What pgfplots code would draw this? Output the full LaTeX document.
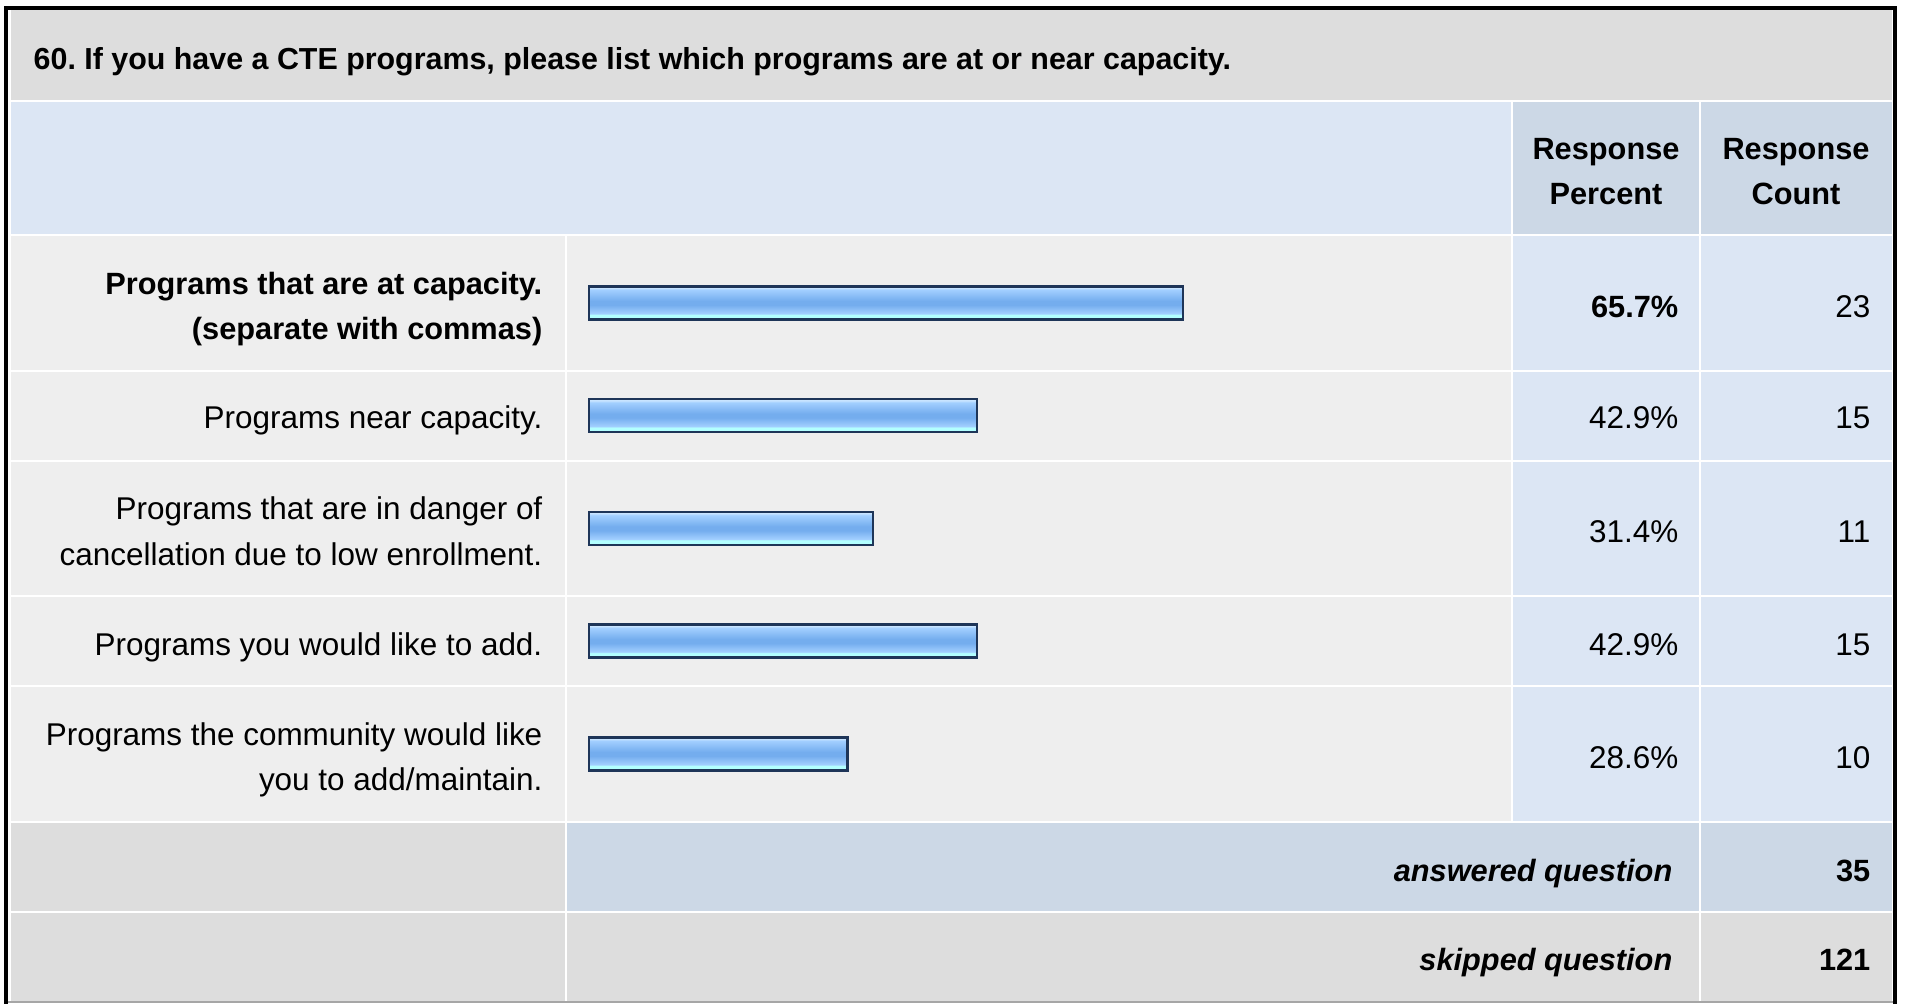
\documentclass[border=0pt]{standalone}
\usepackage{pgfplots}
\pgfplotsset{compat=1.18}
\usepackage{fontspec}
\setmainfont{Liberation Sans}
\frenchspacing

\definecolor{titlegray}{HTML}{DDDDDD}
\definecolor{rowgray}{HTML}{EEEEEE}
\definecolor{paleblue}{HTML}{DCE6F4}
\definecolor{headblue}{HTML}{CCD8E6}
\definecolor{barline}{HTML}{1E3558}
\definecolor{bCyan}{HTML}{B2FFFF}
\definecolor{bLight}{HTML}{A2CFFF}
\definecolor{bDark}{HTML}{74ADEE}
\definecolor{bTop}{HTML}{C8E4FF}

\pgfdeclareverticalshading{barshade}{100bp}{%
  color(0bp)=(bCyan); color(32bp)=(bCyan); color(34bp)=(bLight);
  color(47bp)=(bDark); color(53bp)=(bDark); color(70bp)=(bLight);
  color(73bp)=(bTop); color(100bp)=(bTop)}

\pgfplotsset{pbar/.style={xbar, bar width=3.3mm, bar shift=0pt,
    draw=barline, line width=0.25mm, shade, shading=barshade}}

\newcommand\rg{\fontsize{8.95}{13.2}\selectfont}
\newcommand\bd{\fontsize{8.75}{13.2}\selectfont\bfseries}

\begin{document}
\begin{tikzpicture}[x=0.1mm, y=0.1mm,
  every node/.style={inner sep=0pt, font=\rg}]
\path[use as bounding box] (0,0) rectangle (1907,1004);
\fill[white] (6,0) rectangle (1895,996);

% title and header rows
\fill[titlegray] (11,904) rectangle (1892,994);
\fill[paleblue]  (11,770) rectangle (1511,902);
\fill[headblue]  (1513,770) rectangle (1699,902);
\fill[headblue]  (1701,770) rectangle (1892,902);

% answer rows
\foreach \ya/\yb in {634/768, 544/632, 409/542, 319/407, 183/317}{
  \fill[rowgray]  (11,\ya) rectangle (565,\yb);
  \fill[rowgray]  (567,\ya) rectangle (1511,\yb);
  \fill[paleblue] (1513,\ya) rectangle (1699,\yb);
  \fill[paleblue] (1701,\ya) rectangle (1892,\yb);
}
% totals
\fill[titlegray] (11,93) rectangle (565,181);
\fill[headblue]  (567,93) rectangle (1699,181);
\fill[headblue]  (1701,93) rectangle (1892,181);
\fill[titlegray] (11,3) rectangle (565,91);
\fill[titlegray] (567,3) rectangle (1699,91);
\fill[titlegray] (1701,3) rectangle (1892,91);
\draw[black!35, line width=0.2mm] (8,1.5) -- (1893,1.5);

% frame
\draw[black, line width=0.4mm] (6,0) -- (6,996) -- (1895,996) -- (1895,0);

\begin{axis}[
    at={(58.9mm,75.74mm)}, anchor=north west,
    scale only axis,
    width=90.4mm, height=56.375mm,
    xmin=0, xmax=100,
    ymin=0.5, ymax=5.5,
    y dir=reverse,
    hide axis,
    clip=false,
  ]
  \addplot[pbar] coordinates {(65.7,1)};
  \addplot[pbar] coordinates {(42.9,2)};
  \addplot[pbar] coordinates {(31.4,3)};
  \addplot[pbar] coordinates {(42.9,4)};
  \addplot[pbar] coordinates {(28.6,5)};
\end{axis}

% texts
\node[anchor=base west, font=\fontsize{8.65}{13.2}\selectfont\bfseries] at (33,934.6)
  {60. If you have a CTE programs, please list which programs are at or near capacity.};
\node[anchor=base, font=\bd] at (1606,844.6) {Response};
\node[anchor=base, font=\bd] at (1606,799.6) {Percent};
\node[anchor=base, font=\bd] at (1796,844.6) {Response};
\node[anchor=base, font=\bd] at (1796,799.6) {Count};

\node[anchor=base east, font=\bd] at (543,709.6) {Programs that are at capacity.};
\node[anchor=base east, font=\bd] at (543,664.6) {(separate with commas)};
\node[anchor=base east] at (543,575) {Programs near capacity.};
\node[anchor=base east] at (543,484.6) {Programs that are in danger of};
\node[anchor=base east] at (543,438.4) {cancellation due to low enrollment.};
\node[anchor=base east] at (543,348.4) {Programs you would like to add.};
\node[anchor=base east] at (543,258.4) {Programs the community would like};
\node[anchor=base east] at (543,213.4) {you to add/maintain.};

\node[anchor=base east, font=\bd] at (1679,686.5) {65.7\%};
\node[anchor=base east] at (1679,575) {42.9\%};
\node[anchor=base east] at (1679,461.5) {31.4\%};
\node[anchor=base east] at (1679,348.4) {42.9\%};
\node[anchor=base east] at (1679,235.3) {28.6\%};

\node[anchor=base east] at (1871,686.5) {23};
\node[anchor=base east] at (1871,575) {15};
\node[anchor=base east] at (1871,461.5) {11};
\node[anchor=base east] at (1871,348.4) {15};
\node[anchor=base east] at (1871,235.3) {10};

\node[anchor=base east, font=\bd\itshape] at (1673,122.2) {answered question};
\node[anchor=base east, font=\bd] at (1871,122.2) {35};
\node[anchor=base east, font=\bd\itshape] at (1673,33.4) {skipped question};
\node[anchor=base east, font=\bd] at (1871,33.4) {121};
\end{tikzpicture}
\end{document}
